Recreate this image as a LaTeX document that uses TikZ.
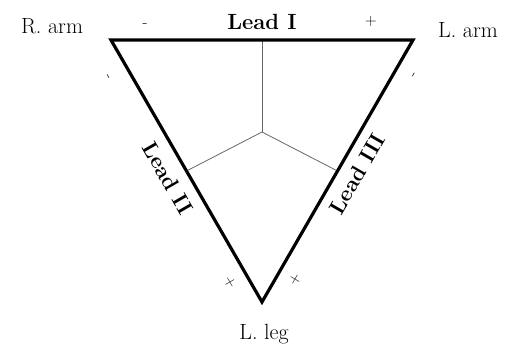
\documentclass[tikz,border=0pt]{standalone}
\usetikzlibrary{calc}
\begin{document}
\begin{tikzpicture}[x=1pt,y=-1pt,
  lbl/.style={inner sep=0pt,font=\fontsize{22}{26}\selectfont},
  leadlbl/.style={inner sep=0pt,font=\fontsize{22}{26}\selectfont\bfseries},
  sign/.style={inner sep=0pt,font=\fontsize{16}{18}\selectfont},
  edge/.style={line width=3.2pt,line join=miter},
  spoke/.style={line width=0.8pt,draw=black!60}]
\useasboundingbox (0,0) rectangle (507,346);
\coordinate (A) at (111,40);
\coordinate (B) at (413,40);
\coordinate (C) at (262,302);
\coordinate (O) at (262,132);
\coordinate (mAB) at ($(A)!0.5!(B)$);
\coordinate (mAC) at ($(A)!0.5!(C)$);
\coordinate (mBC) at ($(B)!0.5!(C)$);
\draw[spoke] (O) -- (mAB);
\draw[spoke] (O) -- (mAC);
\draw[spoke] (O) -- (mBC);
\draw[edge] (A) -- (B) -- (C) -- cycle;
\node[lbl] (ra) at (52,26) {R. arm};
\node[lbl] (la) at (468,30) {L. arm};
\node[lbl] (ll) at (264,334) {L. leg};
\node[leadlbl] (l1) at (262,22) {Lead I};
\node[leadlbl,rotate=-60] (l2) at (168,178) {Lead II};
\node[leadlbl,rotate=60] (l3) at (357,174) {Lead III};
\node[sign] (m1) at (145,26) {-};
\node[sign] (p1) at (371,22) {+};
\node[sign,rotate=-60] (m2) at (107,78) {-};
\node[sign,rotate=60] (m3) at (415,75) {-};
\node[sign,rotate=-60] (p2) at (230,282) {+};
\node[sign,rotate=60] (p3) at (295,280) {+};
\end{tikzpicture}
\end{document}
